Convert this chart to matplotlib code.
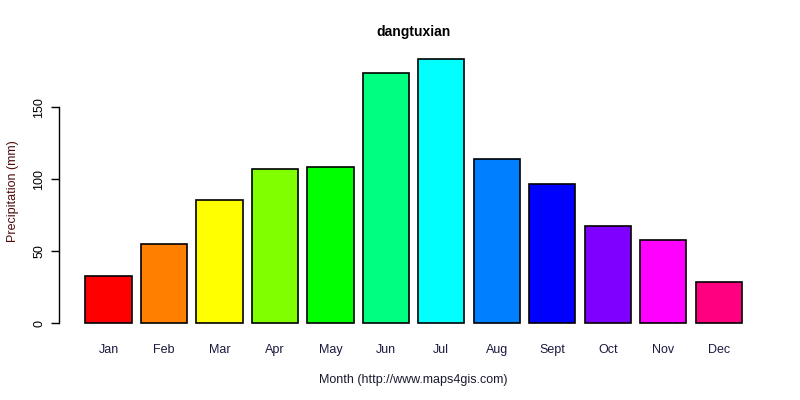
import matplotlib
matplotlib.use('Agg')
import matplotlib.pyplot as plt

plt.rcParams['font.family'] = ['Liberation Sans', 'DejaVu Sans']

months = ['Jan', 'Feb', 'Mar', 'Apr', 'May', 'Jun', 'Jul', 'Aug', 'Sept', 'Oct', 'Nov', 'Dec']
precip = [32.6, 54.9, 85.4, 107, 108.3, 173.6, 183.3, 113.9, 96.5, 67.4, 57.6, 28.5]
colors = ['#FF0000', '#FF8000', '#FFFF00', '#80FF00', '#00FF00', '#00FF80',
          '#00FFFF', '#0080FF', '#0000FF', '#8000FF', '#FF00FF', '#FF0080']
yticks = [0, 50, 100, 150]

fig = plt.figure(figsize=(8, 4), dpi=100)
ax = fig.add_axes([0.074, 0.165, 0.886, 0.713])

# R barplot layout: width 1, space 0.2
xpos = [0.7 + 1.2 * i for i in range(len(months))]
ax.bar(xpos, precip, width=1.0, color=colors, edgecolor='black', linewidth=1.2)

n = len(months)
xmin, xmax = 0.2, 0.2 + 1.2 * n - 0.2
ext = 0.04 * (xmax - xmin)
ax.set_xlim(xmin - ext, xmax + ext)
ymax = max(precip)
ax.set_ylim(-0.04 * ymax, ymax * 1.04)

for s in ['top', 'right', 'bottom']:
    ax.spines[s].set_visible(False)
ax.spines['left'].set_bounds(0, 150)
ax.spines['left'].set_linewidth(1)

ax.set_yticks(yticks)
ax.set_yticklabels([str(t) for t in yticks], rotation=90, va='center', fontsize=9)
ax.tick_params(axis='y', length=6, width=1, pad=4)

ax.set_xticks(xpos)
ax.set_xticklabels(months, fontsize=9, color='#1a1a40')
ax.tick_params(axis='x', length=0, pad=7)

ax.set_title('dangtuxian', fontsize=10, fontweight='bold', pad=9)
ax.set_xlabel('Month (http://www.maps4gis.com)', fontsize=9, color='#1a1a30', labelpad=13)
ax.set_ylabel('Precipitation (mm)', fontsize=9, color='#4d0a0a', labelpad=10)

fig.savefig('out.png', dpi=100)
